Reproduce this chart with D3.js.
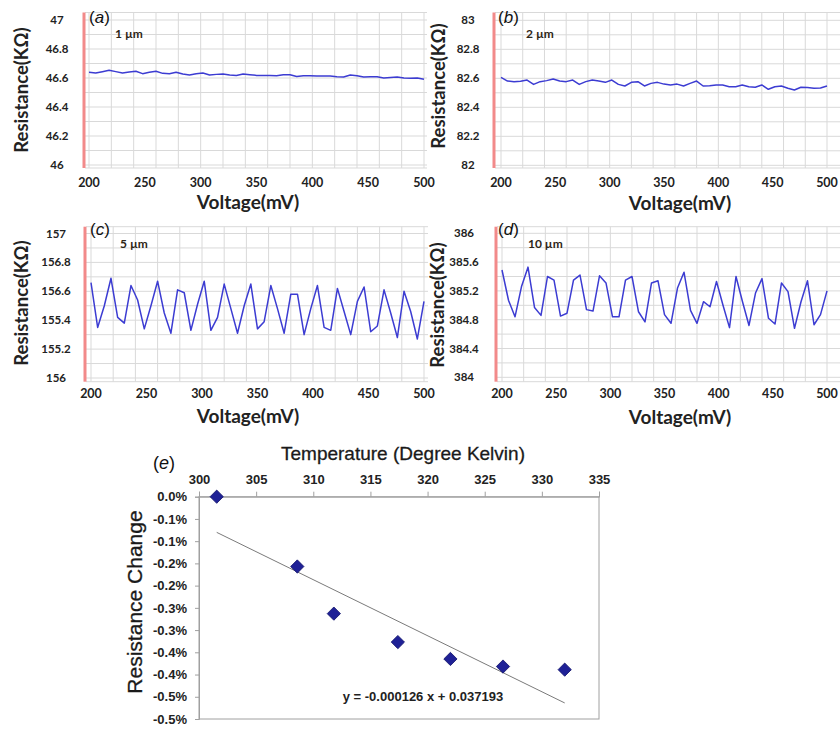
<!DOCTYPE html>
<html>
<head>
<meta charset="utf-8">
<script src="https://cdn.jsdelivr.net/npm/d3@7"></script>
<style>
  body { margin: 0; background: #fff; }
  svg { display: block; }
</style>
</head>
<body>
<svg id="chart" width="840" height="729"></svg>
<script>
// ---------------- DATA ----------------
const voltages = [200,206,212,218,224,230,236,242,248,254,260,266,272,278,284,290,296,302,308,314,320,326,332,338,344,350,356,362,368,374,380,386,392,398,404,410,416,422,428,434,440,446,452,458,464,470,476,482,488,494,500];

const res1um = [46.639,46.634,46.643,46.653,46.644,46.634,46.641,46.646,46.630,46.639,
  46.646,46.632,46.630,46.639,46.627,46.621,46.630,46.634,46.621,46.625,
  46.627,46.621,46.618,46.627,46.623,46.618,46.618,46.618,46.616,46.623,
  46.623,46.611,46.616,46.616,46.614,46.614,46.614,46.609,46.607,46.621,
  46.616,46.607,46.609,46.609,46.600,46.604,46.607,46.600,46.598,46.600,
  46.591];

const res2um = [82.607,82.581,82.577,82.579,82.588,82.558,82.577,82.584,82.595,82.581,
  82.577,82.588,82.558,82.577,82.588,82.581,82.572,82.588,82.558,82.547,
  82.572,82.577,82.547,82.565,82.572,82.560,82.554,82.560,82.547,82.565,
  82.581,82.547,82.549,82.554,82.554,82.542,82.542,82.554,82.542,82.538,
  82.554,82.524,82.542,82.547,82.531,82.519,82.538,82.536,82.531,82.533,
  82.547];

const res5um = [156.66,156.35,156.50,156.69,156.42,156.38,156.64,156.54,156.34,156.50,
  156.67,156.45,156.31,156.61,156.59,156.33,156.51,156.67,156.33,156.42,
  156.65,156.48,156.31,156.50,156.65,156.34,156.39,156.64,156.48,156.31,
  156.58,156.58,156.30,156.48,156.64,156.35,156.33,156.62,156.46,156.30,
  156.53,156.63,156.32,156.36,156.61,156.45,156.28,156.60,156.46,156.27,
  156.53];

const res10um = [385.49,385.07,384.84,385.26,385.53,384.97,384.86,385.40,385.35,384.85,
  384.89,385.35,385.42,384.94,384.92,385.41,385.31,384.84,384.84,385.35,
  385.40,384.91,384.77,385.31,385.34,384.87,384.75,385.24,385.46,384.93,
  384.75,385.05,384.98,385.33,385.00,384.69,385.40,385.05,384.72,385.17,
  385.37,384.82,384.74,385.31,385.19,384.68,385.05,385.34,384.73,384.87,
  385.20];

const voltageTicks = [200,250,300,350,400,450,500];

const yTicksA = [46,46.2,46.4,46.6,46.8,47];
const yTickLabelsA = ["46","46.2","46.4","46.6","46.8","47"];
const yTicksB = [82,82.2,82.4,82.6,82.8,83];
const yTickLabelsB = ["82","82.2","82.4","82.6","82.8","83"];
const yTicksC = [156,156.2,156.4,156.6,156.8,157];
const yTickLabelsC = ["156","155.2","155.4","156.6","156.8","157"];
const yTicksD = [384,384.4,384.8,385.2,385.6,386];
const yTickLabelsD = ["384","384.4","384.8","385.2","385.6","386"];

const temps = [301.55, 308.6, 311.8, 317.4, 322.0, 326.6, 332.0];
const resChange = [0.0000, -0.00157, -0.00263, -0.00327, -0.00365, -0.00382, -0.00389];
const tempTicks = [300,305,310,315,320,325,330,335];
const changeTicks = [0,-0.0005,-0.001,-0.0015,-0.002,-0.0025,-0.003,-0.0035,-0.004,-0.0045,-0.005];
const changeTickLabels = ["0.0%","-0.1%","-0.1%","-0.2%","-0.2%","-0.3%","-0.3%","-0.4%","-0.4%","-0.5%","-0.5%"];
const trendSlope = -0.000126;
const trendIntercept = 0.037193;
const trendLabel = "y = -0.000126 x + 0.037193";

// ---------------- DRAW ----------------
const svg = d3.select("#chart");
svg.append("rect").attr("width", 840).attr("height", 729).attr("fill", "#fff");

const panelFont = "Lato, 'Open Sans', 'Liberation Sans', sans-serif";
const arial = "'Liberation Sans', Arial, sans-serif";

const panels = [
  {letter:"a", size:"1 µm", values:res1um, ticks:yTicksA, labels:yTickLabelsA, gridStep:0.1,
   yv:[46,47], yp:[165,20], top:12.5, bottom:168, barX:84, xr:[89,424], plotR:427,
   tickX:57, titleX:22, titleY:90, xlabX:248, xTickY:187, xTitleY:209,
   letX:89, letY:23, sizeX:115, sizeY:38},
  {letter:"b", size:"2 µm", values:res2um, ticks:yTicksB, labels:yTickLabelsB, gridStep:0.1,
   yv:[82,83], yp:[165.3,20.3], top:12.5, bottom:168, barX:494, xr:[501,827], plotR:850,
   tickX:468, titleX:439, titleY:86, xlabX:680, xTickY:187, xTitleY:210,
   letX:498, letY:23, sizeX:526, sizeY:38},
  {letter:"c", size:"5 µm", values:res5um, ticks:yTicksC, labels:yTickLabelsC, gridStep:0.1,
   yv:[156,157], yp:[378,233.5], top:226.7, bottom:381.7, barX:85, xr:[91,424], plotR:428,
   tickX:56, titleX:22, titleY:303, xlabX:248, xTickY:398, xTitleY:423,
   letX:90, letY:235, sizeX:120, sizeY:248},
  {letter:"d", size:"10 µm", values:res10um, ticks:yTicksD, labels:yTickLabelsD, gridStep:0.2,
   yv:[384,386], yp:[377.3,233.3], top:226.7, bottom:381.7, barX:496, xr:[502,827], plotR:850,
   tickX:464, titleX:438, titleY:305, xlabX:680, xTickY:398, xTitleY:424,
   letX:498, letY:235, sizeX:528, sizeY:248}
];

panels.forEach(p => {
  const g = svg.append("g");
  const x = d3.scaleLinear().domain([200, 500]).range(p.xr);
  const y = d3.scaleLinear().domain(p.yv).range(p.yp);
  const plotL = p.barX + 1;

  // horizontal gridlines
  const yLo = y.invert(p.bottom), yHi = y.invert(p.top);
  const gridVals = d3.range(Math.ceil(yLo / p.gridStep - 1e-6) * p.gridStep, yHi + 1e-9, p.gridStep);
  g.selectAll(null).data(gridVals).join("line")
    .attr("x1", plotL).attr("x2", p.plotR)
    .attr("y1", d => y(d)).attr("y2", d => y(d))
    .attr("stroke", "#d9d9d9").attr("stroke-width", 1);
  [p.top, p.bottom].forEach(yy => {
    g.append("line").attr("x1", plotL).attr("x2", p.plotR)
      .attr("y1", yy).attr("y2", yy).attr("stroke", "#d9d9d9");
  });
  // vertical gridlines
  g.selectAll(null).data(d3.range(200, 541, 20)).join("line")
    .attr("x1", d => x(d)).attr("x2", d => x(d))
    .attr("y1", p.top).attr("y2", p.bottom)
    .attr("stroke", "#d9d9d9").attr("stroke-width", 1)
    .attr("display", d => x(d) > p.plotR ? "none" : null);

  // red axis bar
  g.append("rect").attr("x", p.barX - 1.5).attr("y", p.top).attr("width", 3)
    .attr("height", p.bottom - p.top).attr("fill", "#f28a8a");

  // y tick labels
  g.selectAll(null).data(p.ticks).join("text")
    .attr("x", p.tickX).attr("y", d => y(d)).attr("dy", "0.35em")
    .attr("text-anchor", "middle")
    .attr("font-family", panelFont).attr("font-weight", 700).attr("font-size", 11.5)
    .attr("fill", "#222")
    .text((d, i) => p.labels[i]);

  // x tick labels
  g.selectAll(null).data(voltageTicks).join("text")
    .attr("x", d => x(d)).attr("y", p.xTickY)
    .attr("text-anchor", "middle")
    .attr("font-family", panelFont).attr("font-weight", 700).attr("font-size", 12.5)
    .attr("fill", "#222")
    .text(d => d);

  // axis titles
  g.append("text").attr("x", p.xlabX).attr("y", p.xTitleY).attr("text-anchor", "middle")
    .attr("font-family", panelFont).attr("font-weight", 700).attr("font-size", 19)
    .attr("fill", "#222").text("Voltage(mV)");
  g.append("text")
    .attr("transform", `translate(${p.titleX},${p.titleY}) rotate(-90)`)
    .attr("text-anchor", "middle").attr("dy", "0.35em")
    .attr("font-family", panelFont).attr("font-weight", 700).attr("font-size", 18.5)
    .attr("fill", "#222").text("Resistance(KΩ)");

  // data line
  const line = d3.line().x((d, i) => x(voltages[i])).y(d => y(d));
  g.append("path").datum(p.values).attr("d", line)
    .attr("fill", "none").attr("stroke", "#3c3cd2").attr("stroke-width", 1.5)
    .attr("stroke-linejoin", "round");

  // panel letter
  const lt = g.append("text").attr("x", p.letX).attr("y", p.letY)
    .attr("font-family", arial).attr("font-size", 17).attr("fill", "#111");
  lt.append("tspan").text("(");
  lt.append("tspan").attr("font-style", "italic").text(p.letter);
  lt.append("tspan").text(")");

  // size label
  g.append("text").attr("x", p.sizeX).attr("y", p.sizeY)
    .attr("font-family", panelFont).attr("font-weight", 700).attr("font-size", 12)
    .attr("fill", "#2e2516").text(p.size);
});

// ---------------- PANEL E ----------------
const ge = svg.append("g");
const xe = d3.scaleLinear().domain([300, 335]).range([199, 599]);
const ye = d3.scaleLinear().domain([-0.005, 0]).range([719, 496.7]);

ge.append("rect").attr("x", 199).attr("y", 496.7).attr("width", 400).attr("height", 719 - 496.7)
  .attr("fill", "none").attr("stroke", "#a0a0a0").attr("stroke-width", 1);

const axT = ge.append("g").attr("transform", "translate(0,496.7)")
  .call(d3.axisTop(xe).tickValues(tempTicks).tickSize(5).tickPadding(8).tickFormat(d => d));
const axL = ge.append("g").attr("transform", "translate(199,0)")
  .call(d3.axisLeft(ye).tickValues(changeTicks).tickSize(4).tickPadding(8)
    .tickFormat((d, i) => changeTickLabels[i]));
[axT, axL].forEach(a => {
  a.select(".domain").attr("stroke", "#a0a0a0");
  a.selectAll(".tick line").attr("stroke", "#a0a0a0");
  a.selectAll("text").attr("font-family", arial).attr("font-weight", 700)
    .attr("font-size", 13).attr("fill", "#222");
});

// trendline
const tx0 = temps[0], tx1 = temps[temps.length - 1];
ge.append("line")
  .attr("x1", xe(tx0)).attr("y1", ye(trendSlope * tx0 + trendIntercept))
  .attr("x2", xe(tx1)).attr("y2", ye(trendSlope * tx1 + trendIntercept))
  .attr("stroke", "#7a7a7a").attr("stroke-width", 1);

// markers
ge.selectAll(null).data(temps).join("path")
  .attr("d", d3.symbol(d3.symbolSquare, 88))
  .attr("transform", (d, i) => `translate(${xe(d)},${ye(resChange[i])}) rotate(45)`)
  .attr("fill", "#1f2196").attr("stroke", "#15166e").attr("stroke-width", 0.8);

// equation
ge.append("text").attr("x", 423).attr("y", 701).attr("text-anchor", "middle")
  .attr("font-family", arial).attr("font-weight", 700).attr("font-size", 13)
  .attr("fill", "#222").text(trendLabel);

// titles
ge.append("text").attr("x", 403).attr("y", 460).attr("text-anchor", "middle")
  .attr("font-family", arial).attr("font-size", 19).attr("fill", "#1a1a1a")
  .attr("stroke", "#1a1a1a").attr("stroke-width", 0.3)
  .text("Temperature (Degree Kelvin)");
ge.append("text")
  .attr("transform", "translate(135,602) rotate(-90)")
  .attr("text-anchor", "middle").attr("dy", "0.35em")
  .attr("font-family", arial).attr("font-size", 21).attr("fill", "#1a1a1a")
  .attr("stroke", "#1a1a1a").attr("stroke-width", 0.3)
  .text("Resistance Change");
const le = ge.append("text").attr("x", 153).attr("y", 469)
  .attr("font-family", arial).attr("font-size", 18).attr("fill", "#111");
le.append("tspan").text("(");
le.append("tspan").attr("font-style", "italic").text("e");
le.append("tspan").text(")");
</script>
</body>
</html>
